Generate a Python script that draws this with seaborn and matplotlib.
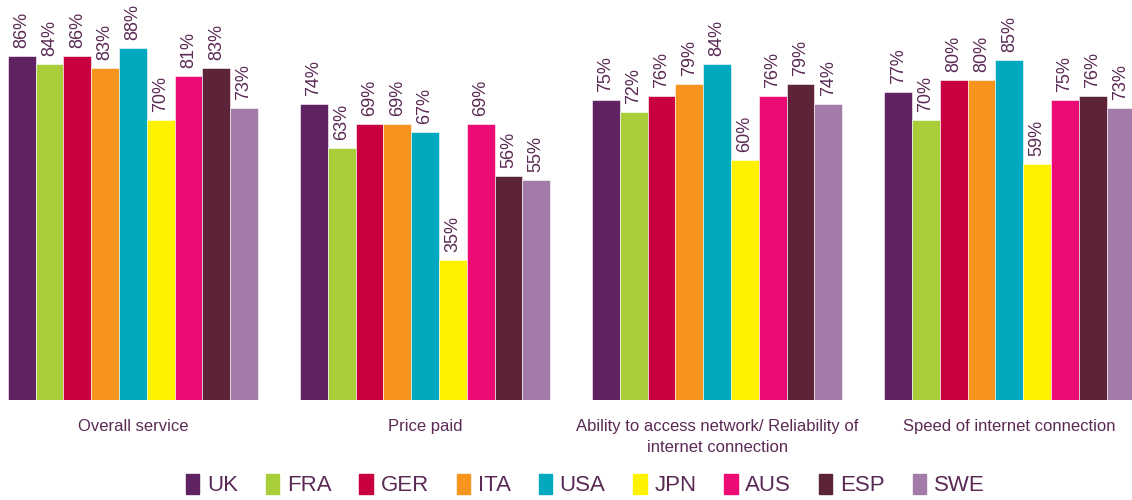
import matplotlib
matplotlib.use("Agg")
import matplotlib.pyplot as plt
import seaborn as sns
import pandas as pd
from matplotlib import font_manager

categories = ["Overall service", "Price paid",
              "Ability to access network/ Reliability of\ninternet connection",
              "Speed of internet connection"]
countries = ["UK", "FRA", "GER", "ITA", "USA", "JPN", "AUS", "ESP", "SWE"]
overall = [86, 84, 86, 83, 88, 70, 81, 83, 73]
price = [74, 63, 69, 69, 67, 35, 69, 56, 55]
ability = [75, 72, 76, 79, 84, 60, 76, 79, 74]
speed = [77, 70, 80, 80, 85, 59, 75, 76, 73]
colors = ["#5f2363", "#a8cf3a", "#c8003f", "#f7941d", "#00a9bd",
          "#fff200", "#ec0a74", "#5c2339", "#a37ba9"]

rows = []
for cat, vals in zip(categories, [overall, price, ability, speed]):
    for c, v in zip(countries, vals):
        rows.append({"cat": cat, "country": c, "value": v})
df = pd.DataFrame(rows)

sns.set_theme(style="white")
names = {f.name for f in font_manager.fontManager.ttflist}
fam = "Liberation Sans Narrow" if "Liberation Sans Narrow" in names else "Liberation Sans"
plt.rcParams["font.family"] = [fam, "DejaVu Sans"]
txt = "#5a2a55"

fig = plt.figure(figsize=(11.32, 5), dpi=100)
ax = fig.add_axes([0, 0.2, 1, 0.8])
sns.barplot(data=df, x="cat", y="value", hue="country", order=categories,
            hue_order=countries, palette=colors, saturation=1, width=0.856, ax=ax,
            edgecolor="white", linewidth=0.4, legend=False)
for cont in ax.containers:
    ax.bar_label(cont, labels=[f"{int(v)}%" for v in cont.datavalues],
                 rotation=90, padding=6, color=txt, fontsize=13, clip_on=False)
ax.set_ylim(0, 100)
ax.set_xlim(-0.455, 3.42)
ax.set_xlabel("")
ax.set_ylabel("")
ax.set_yticks([])
ax.tick_params(axis="x", length=0, pad=14, labelsize=12, labelcolor=txt)
for lab in ax.get_xticklabels():
    lab.set_linespacing(1.45)
for s in ax.spines.values():
    s.set_visible(False)

handles = [plt.Rectangle((0, 0), 1, 1, color=c) for c in colors]
fig.legend(handles, countries, loc="center", bbox_to_anchor=(0.517, 0.03),
           ncol=9, frameon=False, fontsize=16, labelcolor=txt,
           handlelength=0.6, handleheight=1.0, handletextpad=0.35,
           columnspacing=1.25)
fig.savefig("out.png", dpi=100)
